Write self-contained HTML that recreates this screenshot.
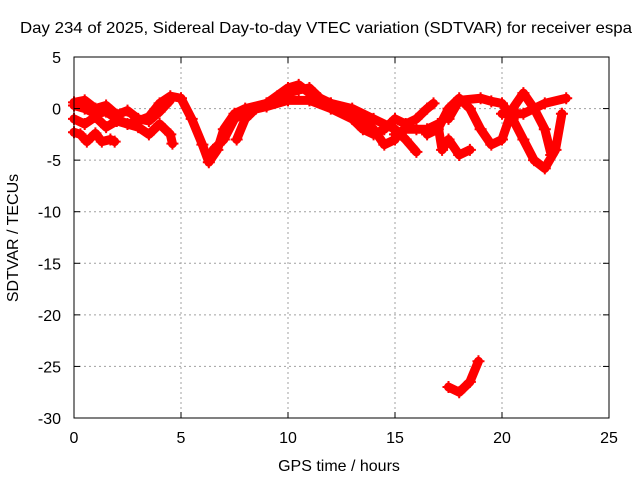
<!DOCTYPE html>
<html><head><meta charset="utf-8"><style>
body{margin:0;background:#fff}
svg text{font-family:"Liberation Sans",sans-serif;font-size:16px;fill:#000}
</style></head><body>
<svg id="chart" width="640" height="480" viewBox="0 0 640 480" xmlns="http://www.w3.org/2000/svg">
<rect width="640" height="480" fill="#fff"/>
<text x="20" y="33" textLength="612" lengthAdjust="spacingAndGlyphs">Day 234 of 2025, Sidereal Day-to-day VTEC variation (SDTVAR) for receiver espa</text>
<g id="grid"></g>
<g id="series"></g>
<rect x="74" y="57" width="535" height="361" fill="none" stroke="#000" stroke-width="1"/>
<g id="axes"></g>
<text x="339" y="471" text-anchor="middle">GPS time / hours</text>
<text transform="translate(18,238) rotate(-90)" text-anchor="middle">SDTVAR / TECUs</text>
</svg>
<script>
const xTicks=[0,5,10,15,20,25];
const yTicks=[5,0,-5,-10,-15,-20,-25,-30];
const track1=[[0,0.3],[0.5,0],[1,-0.5],[1.5,-0.3],[2,-1],[2.5,-1.5],[3,-1.2],[3.5,-0.8],[4,0.5],[4.5,1.2],[5,1],[5.5,-1],[6,-3.5],[6.3,-5.2],[6.7,-4],[7,-2],[7.5,-0.5],[8,0],[9,0.5],[10,2],[10.5,2.3],[11,1.5],[12,0.5],[13,0],[14,-1],[15,-2],[15.5,-3],[16,-4.2]];
const track2=[[0,-1],[0.5,-1.5],[1,-0.8],[1.5,-1.8],[2,-1.2],[3,-1.8],[3.5,-2.5],[4,-1.5],[4.5,-2.5],[4.6,-3.4]];
const track3=[[0,-2.3],[0.3,-2.5],[0.6,-3.2],[1,-2.4],[1.3,-3.2],[1.7,-3],[1.9,-3.2]];
const track11=[[0,0.6],[0.5,0.8],[1,0],[1.5,0.3],[2,-0.6],[2.5,-0.2],[3,-1],[3.5,-1.2],[4,-0.3],[4.5,0.8]];
const track4=[[7.6,-3],[8,-1],[8.5,0],[9,0.5],[9.5,1.2],[10,1.5],[10.5,1.8],[11,2],[11.5,1],[12,0.5],[12.5,0],[13,-0.5],[13.5,-1],[14,-2],[14.5,-3.5],[15,-3]];
const track5=[[6.5,-4],[7,-3],[7.5,-1],[8,-0.3],[9,0.2],[10,0.8],[11,0.8],[12,0],[13,-1],[13.5,-2],[14,-2.5],[14.5,-2],[15,-1],[15.5,-1.5],[16,-1],[16.5,0],[16.8,0.5]];
const track6=[[15,-2.5],[15.5,-2],[16,-2],[16.5,-2],[17,-1.5],[17.2,-4],[17.5,-3],[18,-4.5],[18.5,-4]];
const track7=[[17.5,-1],[18,0.8],[19,1],[19.5,0.7],[20,0.5],[20.5,-1],[21,-3],[21.5,-5],[22,-5.8],[22.5,-4],[22.8,-0.5]];
const track8=[[16.5,-2.5],[17,-2],[17.5,0],[18,1],[18.5,0],[19,-2],[19.5,-3.5],[20,-3],[20.5,0],[21,1.5],[21.5,0],[22,-2],[22.3,-4.5]];
const track9=[[20,-0.5],[21,-0.5],[22,0.5],[23,1]];
const track10=[[17.5,-27],[18,-27.5],[18.5,-26.5],[18.9,-24.5]];
const tracks=[track1,track2,track3,track11,track4,track5,track6,track7,track8,track9,track10];
const NS='http://www.w3.org/2000/svg';
const X=t=>74+t*535/25;
const Y=v=>57+(5-v)*361/35;
const grid=document.getElementById('grid'),axes=document.getElementById('axes'),series=document.getElementById('series');
function mk(tag,attrs,parent){const e=document.createElementNS(NS,tag);for(const k in attrs)e.setAttribute(k,attrs[k]);parent.appendChild(e);return e;}
xTicks.forEach(t=>{
  if(t>0&&t<25){const g=mk('line',{x1:X(t),x2:X(t),y1:57,y2:418,stroke:'#a0a0a0','stroke-dasharray':'2,3'},grid);
  
  }
  mk('line',{x1:X(t),x2:X(t),y1:418,y2:412,stroke:'#000'},axes);
  mk('line',{x1:X(t),x2:X(t),y1:57,y2:63,stroke:'#000'},axes);
  const l=mk('text',{x:X(t),y:443,'text-anchor':'middle'},axes);l.textContent=t;
  
  
});
yTicks.forEach(v=>{
  if(v<5&&v>-30){const g=mk('line',{x1:74,x2:609,y1:Y(v),y2:Y(v),stroke:'#a0a0a0','stroke-dasharray':'2,3'},grid);
  
  }
  mk('line',{x1:74,x2:80,y1:Y(v),y2:Y(v),stroke:'#000'},axes);
  mk('line',{x1:609,x2:603,y1:Y(v),y2:Y(v),stroke:'#000'},axes);
  const l=mk('text',{x:61,y:Y(v)+6,'text-anchor':'end'},axes);l.textContent=v;
  
  
});
tracks.forEach((tr)=>{
  const p=mk('polyline',{points:tr.map(d=>X(d[0])+','+Y(d[1])).join(' '),fill:'none',stroke:'#ff0000','stroke-width':9,'stroke-linejoin':'round','stroke-linecap':'round'},series);
  
  
  tr.forEach(d=>{
    const m=mk('path',{d:`M${X(d[0])-6},${Y(d[1])}h12M${X(d[0])},${Y(d[1])-6}v12`,stroke:'#ff0000','stroke-width':2},series);
    
    
  });
});
</script>
</body></html>
